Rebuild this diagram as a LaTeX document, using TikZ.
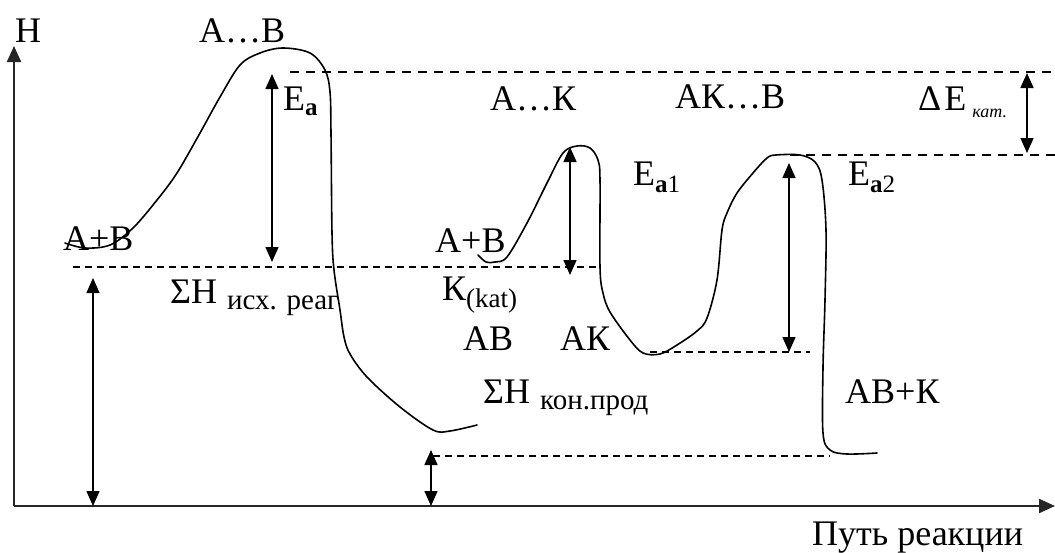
\documentclass[tikz,border=0pt]{standalone}
\usepackage{fontspec}
\setmainfont{Liberation Serif}
\usetikzlibrary{arrows.meta}
\newcommand{\lowtxt}[3]{\raisebox{-#2pt}{\fontsize{#1}{#1}\selectfont #3}}
\begin{document}
\begin{tikzpicture}[x=1pt,y=-1pt,
  lbl/.style={inner sep=0pt, anchor=base west, font=\fontsize{36}{42}\selectfont},
  curve/.style={line width=1.6pt, line join=round, line cap=round},
  lvl/.style={line width=1.5pt, dash pattern=on 7pt off 5pt},
  lvltop/.style={line width=1.5pt, dash pattern=on 9pt off 7pt},
  dim/.style={line width=1.5pt, {Triangle[length=15pt,width=13pt]}-{Triangle[length=15pt,width=13pt]}},
  axis/.style={line width=2.2pt, draw=black!85, -{Triangle[length=16pt,width=14pt]}}]
\useasboundingbox (0,0) rectangle (1055,552);
\fill[white] (0,0) rectangle (1055,552);

% axes
\coordinate (O) at (14,506);
\coordinate (Ytip) at (14,46);
\coordinate (Xtip) at (1055,506);
\draw[axis] (O) -- (Ytip);
\draw[axis] (O) -- (Xtip);

% dashed levels
\coordinate (d1a) at (290,72);   \coordinate (d1b) at (1055,72);
\coordinate (d2a) at (73,267);   \coordinate (d2b) at (600,267);
\coordinate (d3a) at (790,155);  \coordinate (d3b) at (1055,155);
\coordinate (d4a) at (650,352);  \coordinate (d4b) at (810,352);
\coordinate (d5a) at (433,456);  \coordinate (d5b) at (830,456);
\draw[lvltop] (d1a) -- (d1b);
\draw[lvl] (d2a) -- (d2b);
\draw[lvltop] (d3a) -- (d3b);
\draw[lvl] (d4a) -- (d4b);
\draw[lvl] (d5a) -- (d5b);

% curves
\draw[curve] plot[smooth, tension=0.55] coordinates {
 (65,243) (85,248) (110,245) (133,228) (157,200) (177,173) (200,133) (220,97)
 (240,65) (260,53) (283,48) (310,53) (325,70) (330,92) (331,133) (332,233)
 (334,270) (340,310) (344,337) (350,354) (367,377) (400,407) (433,430) (450,431) (477,425)};
\draw[curve] plot[smooth, tension=0.55] coordinates {
 (478,255) (486,262) (495,262) (507,257) (527,223) (547,183) (563,153) (577,146)
 (590,148) (598,160) (600,180) (600,267) (603,293) (610,312) (630,340) (643,353)
 (660,354) (677,345) (697,331) (707,318) (717,280) (722,230) (727,213) (737,193)
 (753,173) (767,158) (776,155) (800,155) (815,162) (822,180) (826,230) (825,300)
 (823,367) (823,433) (830,450) (847,454) (877,453)};

% dimension arrows
\coordinate (eaT) at (272,74);   \coordinate (eaB) at (272,262);
\coordinate (ea1T) at (570,147); \coordinate (ea1B) at (570,275);
\coordinate (ea2T) at (789,163); \coordinate (ea2B) at (789,352);
\coordinate (deT) at (1027,73);  \coordinate (deB) at (1027,153);
\coordinate (hrT) at (93,278);   \coordinate (hrB) at (93,506);
\coordinate (hpT) at (431,450);  \coordinate (hpB) at (431,506);
\draw[dim] (eaT) -- (eaB);
\draw[dim] (ea1T) -- (ea1B);
\draw[dim] (ea2T) -- (ea2B);
\draw[dim] (deT) -- (deB);
\draw[dim] (hrT) -- (hrB);
\draw[dim] (hpT) -- (hpB);

% labels
\node[lbl] (lH) at (15,42) {Н};
\node[lbl] (lAB1) at (199,42) {А…В};
\node[lbl] (lEa) at (283,110) {E\lowtxt{25}{5}{\textbf{a}}};
\node[lbl] (lApB1) at (63,250) {А+В};
\node[lbl] (lSr) at (170,303) {ΣН\hspace{10pt}\lowtxt{29}{6}{исх. реаг}};
\node[lbl] (lAK) at (490,110) {А…К};
\node[lbl] (lAKB) at (675,108) {АК…В};
\node[lbl] (lDE) at (918,110) {Δ\hspace{3pt}E\hspace{6pt}\lowtxt{18}{7}{\textit{кат.}}};
\node[lbl] (lEa1) at (633,185) {E\lowtxt{25}{7}{\textbf{a}1}};
\node[lbl] (lEa2) at (848,185) {E\lowtxt{25}{7}{\textbf{a}2}};
\node[lbl] (lApB2) at (435,252) {А+В};
\node[lbl] (lK) at (442,300) {К\lowtxt{27}{7}{(kat)}};
\node[lbl] (lABp) at (463,350) {АВ};
\node[lbl] (lAKp) at (560,350) {АК};
\node[lbl] (lSp) at (483,403) {ΣН\hspace{10pt}\lowtxt{29}{6}{кон.прод}};
\node[lbl] (lABK) at (845,403) {АВ+К};
\node[lbl] (lPath) at (812,545) {Путь реакции};
\end{tikzpicture}
\end{document}
